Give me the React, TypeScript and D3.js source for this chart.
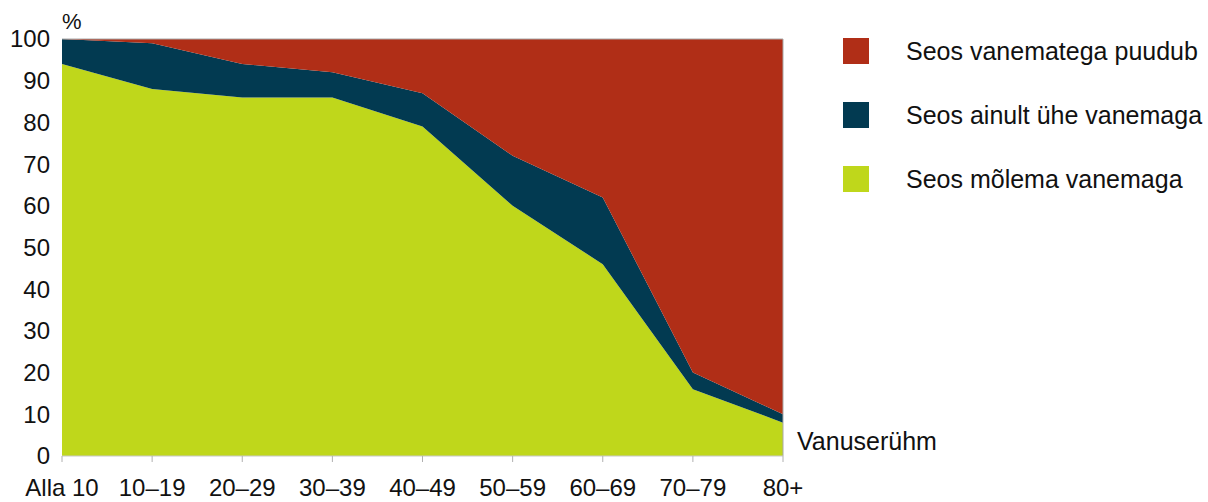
import React, { useEffect, useRef } from 'react';
import * as d3 from 'd3';

const categories = ['Alla 10', '10–19', '20–29', '30–39', '40–49', '50–59', '60–69', '70–79', '80+'];
const bothParents = [94, 88, 86, 86, 79, 60, 46, 16, 8];
const oneParent = [6, 11, 8, 6, 8, 12, 16, 4, 2];
const noParents = [0, 1, 6, 8, 13, 28, 38, 80, 90];
const yTicks = [0, 10, 20, 30, 40, 50, 60, 70, 80, 90, 100];

const seriesKeys = ['both', 'one', 'none'];
const seriesColors: Record<string, string> = {
  both: '#bfd71b',
  one: '#023a51',
  none: '#b02e17'
};
const legendItems = [
  { key: 'none', label: 'Seos vanematega puudub' },
  { key: 'one', label: 'Seos ainult ühe vanemaga' },
  { key: 'both', label: 'Seos mõlema vanemaga' }
];

const W = 1208;
const H = 502;
const FONT = 'Liberation Sans, Arial, sans-serif';
const FS = 24;

const App: React.FC = () => {
  const svgRef = useRef<SVGSVGElement>(null);

  useEffect(() => {
    if (!svgRef.current) return;
    const svg = d3.select(svgRef.current);
    svg.selectAll('*').remove();

    const left = 62, right = 783, top = 39, bottom = 456;

    const rows = categories.map((c, i) => ({
      cat: c,
      both: bothParents[i],
      one: oneParent[i],
      none: noParents[i]
    }));

    const x = d3.scalePoint<string>().domain(categories).range([left, right]);
    const y = d3.scaleLinear().domain([0, 100]).range([bottom, top]);

    const layers = d3.stack<any>().keys(seriesKeys)(rows);

    const area = d3.area<any>()
      .x(d => x(d.data.cat) as number)
      .y0(d => y(d[0]))
      .y1(d => y(Math.min(d[1], 100)));

    svg.append('g')
      .selectAll('path')
      .data(layers)
      .join('path')
      .attr('d', d => area(d) as string)
      .attr('fill', d => seriesColors[d.key]);

    // plot frame (top and right)
    svg.append('path')
      .attr('d', `M${left},${top}H${right}V${bottom}`)
      .attr('fill', 'none')
      .attr('stroke', '#a8a8a8')
      .attr('stroke-width', 1);

    // x axis
    const xAxis = svg.append('g').attr('transform', `translate(0,${bottom})`);
    xAxis.append('line')
      .attr('x1', left).attr('x2', right)
      .attr('stroke', '#c8c8c8').attr('stroke-width', 1);
    xAxis.selectAll('line.tick')
      .data(categories)
      .join('line')
      .attr('class', 'tick')
      .attr('x1', d => x(d) as number).attr('x2', d => x(d) as number)
      .attr('y1', 0).attr('y2', 6)
      .attr('stroke', '#b0b0b0');
    xAxis.selectAll('text')
      .data(categories)
      .join('text')
      .attr('x', d => x(d) as number)
      .attr('y', 40)
      .attr('text-anchor', 'middle')
      .attr('font-family', FONT)
      .attr('font-size', FS)
      .attr('fill', '#111')
      .text(d => d);

    // y axis labels
    svg.append('g')
      .selectAll('text')
      .data(yTicks)
      .join('text')
      .attr('x', 50)
      .attr('y', d => y(d))
      .attr('dy', '0.35em')
      .attr('text-anchor', 'end')
      .attr('font-family', FONT)
      .attr('font-size', FS)
      .attr('fill', '#111')
      .text(d => d);

    svg.append('text')
      .attr('x', 62).attr('y', 29)
      .attr('font-family', FONT).attr('font-size', 22).attr('fill', '#111')
      .text('%');

    svg.append('text')
      .attr('x', 797).attr('y', 450)
      .attr('font-family', FONT).attr('font-size', 25).attr('fill', '#111')
      .text('Vanuserühm');

    // legend
    const legend = svg.append('g');
    legendItems.forEach((it, i) => {
      const g = legend.append('g').attr('transform', `translate(843,${38 + i * 64})`);
      g.append('rect')
        .attr('width', 26).attr('height', 26)
        .attr('fill', seriesColors[it.key]);
      g.append('text')
        .attr('x', 63).attr('y', 13)
        .attr('dy', '0.35em')
        .attr('font-family', FONT).attr('font-size', 25).attr('fill', '#111')
        .text(it.label);
    });
  }, []);

  return (
    <svg
      ref={svgRef}
      width={W}
      height={H}
      viewBox={`0 0 ${W} ${H}`}
      style={{ position: 'absolute', left: 0, top: 0, background: '#fff' }}
    />
  );
};

export default App;
